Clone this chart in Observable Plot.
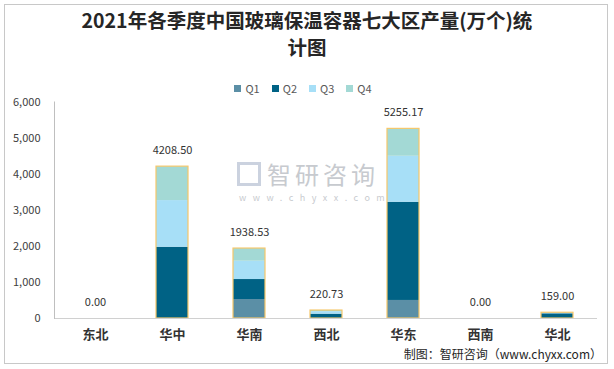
<!DOCTYPE html>
<html>
<head>
<meta charset="utf-8">
<script src="https://cdn.jsdelivr.net/npm/d3@7"></script>
<script src="https://cdn.jsdelivr.net/npm/@observablehq/plot@0.6"></script>
<style>
  html, body { margin: 0; padding: 0; background: #fff; }
  #wrap { position: relative; width: 614px; height: 369px; overflow: hidden; font-family: "Noto Sans CJK SC", "Noto Sans", sans-serif; }
  #border { position: absolute; left: 4px; top: 4px; width: 604px; height: 360px; border: 1px solid #c8c8c8; box-sizing: border-box; }
  #title { position: absolute; left: 0; width: 614px; top: 6px; text-align: center; font-size: 19.5px; font-weight: 700; color: #262626; line-height: 27px; }
  #legend { position: absolute; top: 80px; left: 0; width: 614px; display: flex; justify-content: center; gap: 12px; font-size: 11px; color: #595959; margin-left: -4px; }
  #legend span.item { display: flex; align-items: center; gap: 4px; }
  #legend span.sw { width: 7px; height: 7px; display: inline-block; }
  #chart { position: absolute; left: 0; top: 0; }
  #footer { position: absolute; right: 12px; top: 345px; font-size: 12px; color: #262626; }
  #wm { position: absolute; left: 237px; top: 162px; color: #9aa0a8; opacity: 0.55; }
  #wm .big { position: absolute; left: 30px; top: -3px; font-size: 24px; line-height: 30px; letter-spacing: 4px; white-space: nowrap; }
  #wm .small { position: absolute; left: 2px; top: 30px; font-size: 9px; line-height: 11px; letter-spacing: 6.5px; white-space: nowrap; }
  #wm .logo { position: absolute; left: 0; top: 0; width: 24px; height: 24px; border: 3px solid #8a9bb8; box-sizing: border-box; opacity: 0.8; }
</style>
</head>
<body>
<div id="wrap">
  <div id="border"></div>
  <div id="wm"><div class="logo"></div><div class="big">智研咨询</div><div class="small">www.chyxx.com</div></div>
  <div id="chart"></div>
  <div id="title">2021年各季度中国玻璃保温容器七大区产量(万个)统<br>计图</div>
  <div id="legend"></div>
  <div id="footer">制图：智研咨询（www.chyxx.com）</div>
</div>
<script>
const regions = ["东北", "华中", "华南", "西北", "华东", "西南", "华北"];
const quarters = ["Q1", "Q2", "Q3", "Q4"];
const q1 = [0, 0, 526, 0, 500, 0, 0];
const q2 = [0, 1975, 554, 120, 2722, 0, 130];
const q3 = [0, 1293, 507, 70, 1274, 0, 29];
const q4 = [0, 940.5, 351.53, 30.73, 759.17, 0, 0];
const totals = [0, 4208.50, 1938.53, 220.73, 5255.17, 0, 159.00];
const yTicks = [0, 1000, 2000, 3000, 4000, 5000, 6000];
const colors = ["#5b8fa6", "#006285", "#a7dff7", "#a3d9d5"];

const series = [q1, q2, q3, q4];
const rows = [];
regions.forEach((r, i) => {
  quarters.forEach((q, j) => rows.push({region: r, quarter: q, value: series[j][i]}));
});
const totalRows = regions.map((r, i) => ({region: r, total: totals[i]}));

// legend
const leg = document.getElementById("legend");
quarters.forEach((q, j) => {
  const it = document.createElement("span");
  it.className = "item";
  it.innerHTML = `<span class="sw" style="background:${colors[j]}"></span>${q}`;
  leg.appendChild(it);
});

const chart = Plot.plot({
  width: 614,
  height: 369,
  marginTop: 101.5,
  marginBottom: 51,
  marginLeft: 54,
  marginRight: 17,
  style: {fontFamily: "'Noto Sans CJK SC', 'Noto Sans', sans-serif", fontSize: "11px", color: "#404040", background: "transparent"},
  x: {domain: regions, paddingInner: 0.59, paddingOuter: 0.295, label: null},
  y: {domain: [0, 6000], label: null},
  color: {domain: quarters, range: colors},
  marks: [
    Plot.barY(rows, {x: "region", y: "value", fill: "quarter", order: quarters}),
    Plot.barY(totalRows.filter(d => d.total > 0), {x: "region", y: "total", fill: "none", stroke: "#f5c76a", strokeWidth: 1.2}),
    Plot.ruleY([0], {stroke: "#d0d0d0"}),
    Plot.frame({anchor: "left", stroke: "#bfbfbf"}),
    Plot.axisY({ticks: yTicks, tickSize: 0, tickPadding: 14, tickFormat: d => d3.format(",")(d), fontSize: 11, fill: "#404040"}),
    Plot.axisX({tickSize: 0, tickPadding: 11, fontSize: 13, fontWeight: 700, fill: "#333"}),
    Plot.text(totalRows, {x: "region", y: "total", text: d => d.total.toFixed(2), dy: -16, fontSize: 11, fill: "#333"})
  ]
});
document.getElementById("chart").appendChild(chart);
</script>
</body>
</html>
